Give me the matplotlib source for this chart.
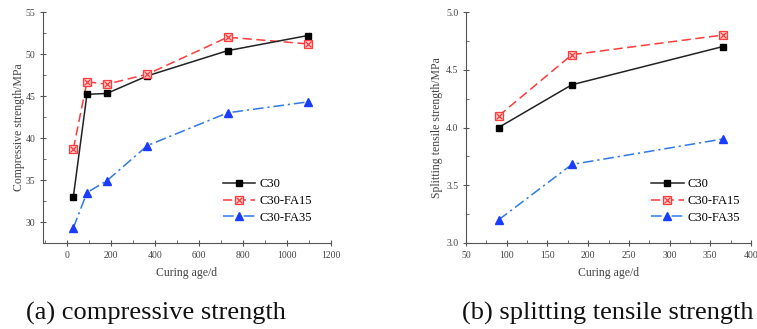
import matplotlib
matplotlib.use("Agg")
import matplotlib.pyplot as plt
from matplotlib.legend_handler import HandlerTuple
from matplotlib.ticker import MultipleLocator, FormatStrFormatter

plt.rcParams['font.family'] = ['Liberation Serif', 'DejaVu Serif']

# Compressive strength data
age_c = [28, 90, 180, 365, 730, 1095]
comp_c30 = [33.0, 45.2, 45.3, 47.4, 50.4, 52.2]
comp_fa15 = [38.7, 46.7, 46.4, 47.6, 52.0, 51.2]
comp_fa35 = [29.3, 33.5, 34.9, 39.1, 43.0, 44.3]

# Splitting tensile strength data
age_s = [90, 180, 365]
split_c30 = [4.00, 4.37, 4.70]
split_fa15 = [4.10, 4.63, 4.80]
split_fa35 = [3.20, 3.68, 3.90]

series_names = ["C30", "C30-FA15", "C30-FA35"]

fig = plt.figure(figsize=(7.57, 3.29), dpi=100)
ax1 = fig.add_axes([43/757, 1-243/329, 288/757, 231/329])
ax2 = fig.add_axes([466/757, 1-243/329, 285/757, 231/329])

RED = '#ff3b3b'
BLUE_L = '#2f7ae8'
BLUE_M = '#1a3cff'


def draw(ax, x, c30, fa15, fa35, anchor):
    h1, = ax.plot(x, c30, color='#222222', lw=1.1, marker='s', ms=5,
                  mfc='black', mec='black', zorder=3)
    l2, = ax.plot(x, fa15, color=RED, lw=1.1, ls=(0, (6, 3)), zorder=2)
    m2a, = ax.plot(x, fa15, ls='none', marker='s', ms=5.5, mfc='#ffd0d0',
                   mec=RED, mew=0.9, zorder=4)
    m2b, = ax.plot(x, fa15, ls='none', marker='x', ms=4, mec=RED, mew=0.9,
                   zorder=5)
    h3, = ax.plot(x, fa35, color=BLUE_L, lw=1.1, ls=(0, (7, 2.5, 1.5, 2.5)),
                  marker='^', ms=6, mfc=BLUE_M, mec=BLUE_M, zorder=3)
    ax.legend([h1, (l2, m2a, m2b), h3], series_names,
              handler_map={tuple: HandlerTuple(ndivide=1)},
              frameon=False, fontsize=9, loc='lower right',
              bbox_to_anchor=anchor, handlelength=2.6,
              handletextpad=0.3, labelspacing=0.38)
    for s in ['top', 'right']:
        ax.spines[s].set_visible(False)
    for s in ['left', 'bottom']:
        ax.spines[s].set_color('#555555')
        ax.spines[s].set_linewidth(0.8)
    ax.tick_params(which='both', colors='#555555',
                   labelcolor='#444444', labelsize=7)
    ax.tick_params(which='major', direction='inout', length=4)
    ax.tick_params(which='minor', direction='in', length=2)


draw(ax1, age_c, comp_c30, comp_fa15, comp_fa35, (0.972, 0.035))
ax1.set_xlim(-110, 1200)
ax1.set_ylim(27.5, 55)
ax1.xaxis.set_major_locator(MultipleLocator(200))
ax1.xaxis.set_minor_locator(MultipleLocator(100))
ax1.yaxis.set_major_locator(MultipleLocator(5))
ax1.yaxis.set_minor_locator(MultipleLocator(2.5))
ax1.set_xlabel('Curing age/d', fontsize=8.5, color='#444444', labelpad=5)
ax1.set_ylabel('Compressive strength/MPa', fontsize=8.5, color='#444444', labelpad=0)

draw(ax2, age_s, split_c30, split_fa15, split_fa35, (1.0, 0.035))
ax2.set_xlim(50, 400)
ax2.set_ylim(3.0, 5.0)
ax2.xaxis.set_major_locator(MultipleLocator(50))
ax2.xaxis.set_minor_locator(MultipleLocator(25))
ax2.yaxis.set_major_locator(MultipleLocator(0.5))
ax2.yaxis.set_minor_locator(MultipleLocator(0.25))
ax2.yaxis.set_major_formatter(FormatStrFormatter('%.1f'))
ax2.set_xlabel('Curing age/d', fontsize=8.5, color='#444444', labelpad=5)
ax2.set_ylabel('Splitting tensile strength/MPa', fontsize=8.5, color='#444444', labelpad=2)

fig.text(26/757, 1-320/329, '(a) compressive strength', fontsize=19,
         ha='left', va='baseline', color='#111111')
fig.text(462/757, 1-320/329, '(b) splitting tensile strength', fontsize=19,
         ha='left', va='baseline', color='#111111')

fig.savefig('out.png', dpi=100)
